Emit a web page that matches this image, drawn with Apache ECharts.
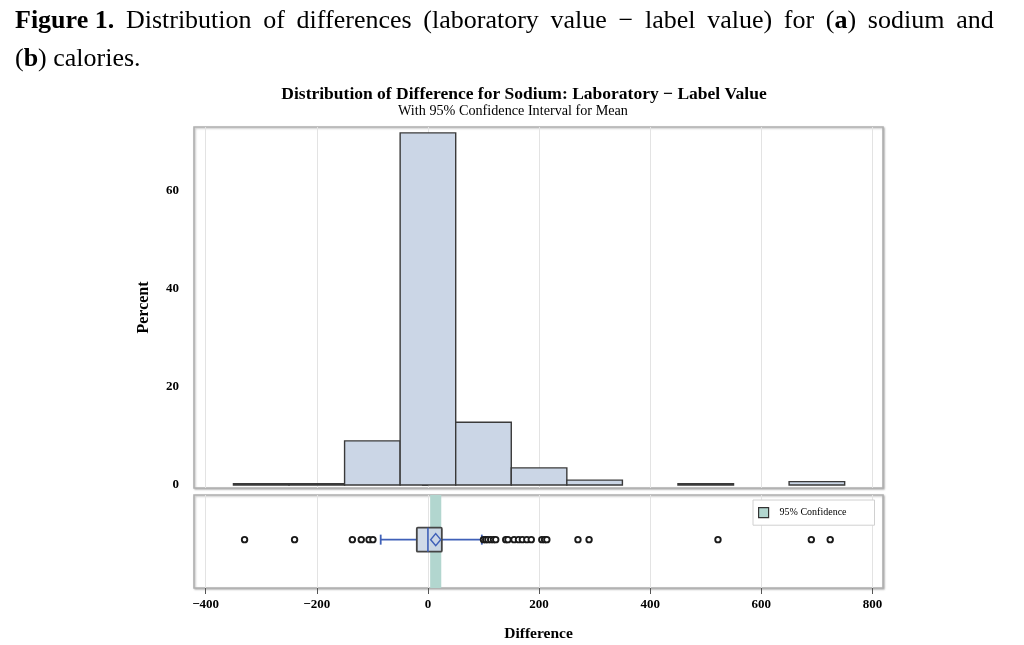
<!DOCTYPE html>
<html>
<head>
<meta charset="UTF-8">
<title>Distribution of Difference for Sodium</title>
<style>
  html, body { margin: 0; padding: 0; background: #fff; }
  #chart { width: 1024px; height: 645px; }
</style>
</head>
<body>
<div id="chart"></div>
<script src="https://cdn.jsdelivr.net/npm/echarts@6/dist/echarts.min.js"></script>
<script>
// histogram: bin midpoints (width 100) and percent of items
const binMid = [-300, -200, -100, 0, 100, 200, 300, 400, 500, 600, 700];
const binPercent = [0.3, 0.3, 9.0, 71.8, 12.8, 3.5, 1.0, 0, 0.3, 0, 0.7];
const binWidth = 100;

// box plot summary
const boxStats = { whiskerLow: -85, q1: -20, median: 0, q3: 25, whiskerHigh: 97 };
const meanValue = 14;
const ciMean = [4, 24];

// outliers
const outliers = [-330, -240, -136, -120, -106, -99,
  100, 104, 108, 113, 118, 122, 140, 144, 155, 163, 170, 178, 186,
  205, 210, 214, 270, 290, 522, 690, 724];

// tick labels
const xTicks = [-400, -200, 0, 200, 400, 600, 800];
const yTicks = [0, 20, 40, 60];

const serif = 'Liberation Serif';
const boxY = 0.52;
const sp = ' \u2009'; // widened gap, the caption line is justified

const chart = echarts.init(document.getElementById('chart'));

const frame = {
  show: true,
  backgroundColor: '#fff',
  borderColor: '#b0b0b0',
  borderWidth: 1.6,
  shadowColor: 'rgba(0,0,0,0.25)',
  shadowBlur: 2,
  shadowOffsetX: 1,
  shadowOffsetY: 1
};

const captionLine1 = ['{b|Figure 1.}', 'Distribution', 'of', 'differences', '(laboratory', 'value',
  '\u2212', 'label', 'value)', 'for', '({b|a})', 'sodium', 'and'].join(sp);

chart.setOption({
  animation: false,
  title: [
    {
      text: captionLine1 + '\n({b|b}) calories.',
      left: 10, top: -3,
      textStyle: {
        fontFamily: serif, fontSize: 26, fontWeight: 'normal', color: '#000', lineHeight: 38,
        rich: { b: { fontFamily: serif, fontSize: 26, fontWeight: 'bold', color: '#000', lineHeight: 38 } }
      }
    },
    {
      text: 'Distribution of Difference for Sodium: Laboratory \u2212 Label Value',
      left: 519, top: 80, textAlign: 'center',
      textStyle: { fontFamily: serif, fontSize: 17.5, fontWeight: 'bold', color: '#000' }
    },
    {
      text: 'With 95% Confidence Interval for Mean',
      left: 508, top: 99, textAlign: 'center',
      textStyle: { fontFamily: serif, fontSize: 14.2, fontWeight: 'normal', color: '#000' }
    }
  ],
  legend: {
    data: ['95% Confidence'],
    left: 753, top: 500,
    icon: 'rect',
    itemWidth: 10, itemHeight: 10,
    padding: [7, 28, 7, 5],
    itemStyle: { borderColor: '#333', borderWidth: 1.2 },
    backgroundColor: '#fff',
    borderColor: '#d0d0d0', borderWidth: 1,
    textStyle: { fontFamily: serif, fontSize: 10, color: '#000', padding: [0, 0, 0, 6] },
    selectedMode: false
  },
  grid: [
    Object.assign({ left: 194, right: 141, top: 127, height: 361 }, frame),
    Object.assign({ left: 194, right: 141, top: 495, height: 93 }, frame)
  ],
  xAxis: [
    {
      type: 'value', gridIndex: 0, min: -421, max: 819,
      axisLine: { show: false }, axisTick: { show: false, customValues: xTicks },
      axisLabel: { show: false, customValues: xTicks },
      splitLine: { show: true, lineStyle: { color: '#e3e3e3', width: 1 } }
    },
    {
      type: 'value', gridIndex: 1, min: -421, max: 819,
      name: 'Difference', nameLocation: 'middle', nameGap: 38,
      nameTextStyle: { fontFamily: serif, fontSize: 15.5, fontWeight: 'bold', color: '#000' },
      axisLine: { show: false },
      axisTick: { show: true, length: 6, customValues: xTicks, lineStyle: { color: '#555' } },
      axisLabel: {
        customValues: xTicks, margin: 10,
        fontFamily: serif, fontSize: 13, fontWeight: 'bold', color: '#000',
        formatter: v => (v < 0 ? '\u2212' + Math.abs(v) : String(v))
      },
      splitLine: { show: true, lineStyle: { color: '#e3e3e3', width: 1 } }
    }
  ],
  yAxis: [
    {
      type: 'value', gridIndex: 0, min: -0.6, max: 73,
      name: 'Percent', nameLocation: 'middle', nameGap: 42, nameRotate: 90,
      nameTextStyle: { fontFamily: serif, fontSize: 16, fontWeight: 'bold', color: '#000' },
      axisLine: { show: false },
      axisTick: { show: true, length: 6, customValues: yTicks, lineStyle: { color: '#555' } },
      axisLabel: {
        customValues: yTicks, margin: 15,
        fontFamily: serif, fontSize: 13, fontWeight: 'bold', color: '#000'
      },
      splitLine: { show: false }
    },
    {
      type: 'value', gridIndex: 1, min: 0, max: 1,
      axisLine: { show: false }, axisTick: { show: false },
      axisLabel: { show: false }, splitLine: { show: false }
    }
  ],
  series: [
    {
      name: 'Histogram',
      type: 'custom',
      xAxisIndex: 0, yAxisIndex: 0,
      clip: true,
      data: binMid.map((m, i) => [m, binPercent[i]]),
      renderItem: (params, api) => {
        const mid = api.value(0), pct = api.value(1);
        if (pct <= 0) return null;
        const p0 = api.coord([mid - binWidth / 2, pct]);
        const p1 = api.coord([mid + binWidth / 2, 0]);
        return {
          type: 'rect',
          shape: { x: p0[0], y: p0[1], width: p1[0] - p0[0], height: p1[1] - p0[1] },
          style: { fill: '#cbd6e6', stroke: '#3a3a3a', lineWidth: 1.4 }
        };
      }
    },
    {
      name: '95% Confidence',
      type: 'custom',
      xAxisIndex: 1, yAxisIndex: 1,
      itemStyle: { color: '#b2d6cf' },
      z: 1,
      data: [[ciMean[0], ciMean[1]]],
      renderItem: (params, api) => {
        const a = api.coord([api.value(0), 1]);
        const b = api.coord([api.value(1), 0]);
        return {
          type: 'rect',
          shape: { x: a[0], y: a[1], width: b[0] - a[0], height: b[1] - a[1] },
          style: { fill: '#b2d6cf' }
        };
      }
    },
    {
      name: 'Box',
      type: 'custom',
      xAxisIndex: 1, yAxisIndex: 1,
      z: 3,
      data: [[boxStats.whiskerLow, boxStats.q1, boxStats.median, boxStats.q3, boxStats.whiskerHigh, meanValue]],
      renderItem: (params, api) => {
        const wl = api.coord([api.value(0), boxY]);
        const q1 = api.coord([api.value(1), boxY]);
        const md = api.coord([api.value(2), boxY]);
        const q3 = api.coord([api.value(3), boxY]);
        const wh = api.coord([api.value(4), boxY]);
        const mn = api.coord([api.value(5), boxY]);
        const cy = wl[1];
        const hh = 12, cap = 5;
        const blue = '#3f60b8';
        return {
          type: 'group',
          children: [
            { type: 'line', shape: { x1: wl[0], y1: cy, x2: q1[0], y2: cy }, style: { stroke: blue, lineWidth: 1.6 } },
            { type: 'line', shape: { x1: q3[0], y1: cy, x2: wh[0], y2: cy }, style: { stroke: blue, lineWidth: 1.6 } },
            { type: 'line', shape: { x1: wl[0], y1: cy - cap, x2: wl[0], y2: cy + cap }, style: { stroke: blue, lineWidth: 1.8 } },
            { type: 'line', shape: { x1: wh[0], y1: cy - cap, x2: wh[0], y2: cy + cap }, style: { stroke: blue, lineWidth: 1.8 } },
            { type: 'rect', shape: { x: q1[0], y: cy - hh, width: q3[0] - q1[0], height: 2 * hh, r: 1 },
              style: { fill: 'rgba(203,214,230,0.9)', stroke: '#454545', lineWidth: 1.8 } },
            { type: 'line', shape: { x1: md[0], y1: cy - hh, x2: md[0], y2: cy + hh }, style: { stroke: blue, lineWidth: 1.6 } },
            { type: 'polygon', shape: { points: [[mn[0], cy - 6], [mn[0] + 5, cy], [mn[0], cy + 6], [mn[0] - 5, cy]] },
              style: { fill: '#cbd6e6', stroke: blue, lineWidth: 1.5 } }
          ]
        };
      }
    },
    {
      name: 'Outliers',
      type: 'scatter',
      xAxisIndex: 1, yAxisIndex: 1,
      z: 4,
      symbol: 'circle',
      symbolSize: 5.5,
      data: outliers.map(v => [v, boxY]),
      itemStyle: { color: '#fff', borderColor: '#1a1a1a', borderWidth: 1.9, opacity: 1 }
    }
  ]
});
</script>
</body>
</html>
